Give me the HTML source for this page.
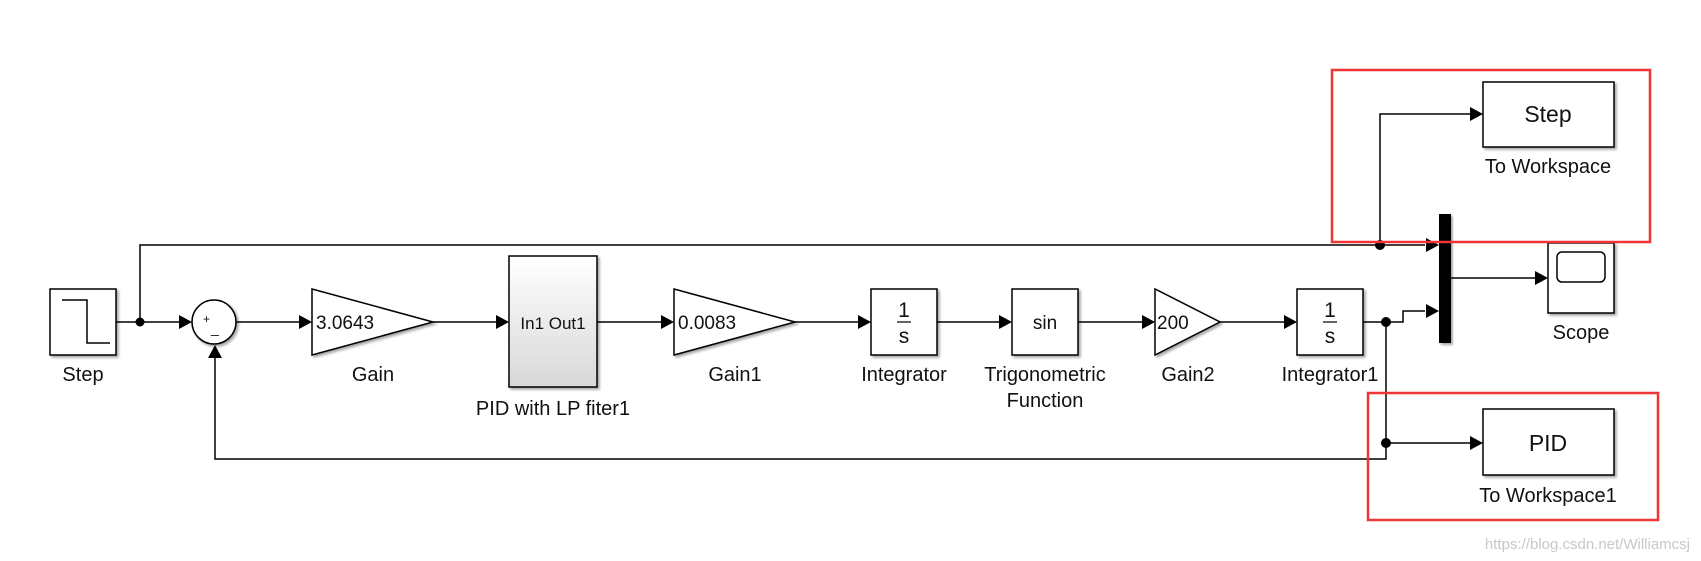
<!DOCTYPE html>
<html><head><meta charset="utf-8"><style>
html,body{margin:0;padding:0;background:#fff;}
svg{display:block;}
text{font-family:"Liberation Sans",sans-serif;fill:#111;}
</style></head><body>
<svg width="1701" height="561" viewBox="0 0 1701 561" xmlns="http://www.w3.org/2000/svg">
<defs>
<filter id="sh" x="-10%" y="-10%" width="130%" height="130%"><feDropShadow dx="2" dy="2" stdDeviation="1.2" flood-color="#000" flood-opacity="0.35"/></filter>
<linearGradient id="pg" x1="0" y1="0" x2="0" y2="1"><stop offset="0" stop-color="#fff"/><stop offset="1" stop-color="#d8d8d8"/></linearGradient>
</defs>
<g stroke="#000" stroke-width="1.5" fill="none">
<line x1="116" y1="322" x2="180" y2="322"/>
<polyline points="140,322 140,245 1425,245"/>
<line x1="236" y1="322" x2="300" y2="322"/>
<line x1="433" y1="322" x2="497" y2="322"/>
<line x1="597" y1="322" x2="662" y2="322"/>
<line x1="795" y1="322" x2="859" y2="322"/>
<line x1="937" y1="322" x2="1000" y2="322"/>
<line x1="1078" y1="322" x2="1143" y2="322"/>
<line x1="1220" y1="322" x2="1285" y2="322"/>
<polyline points="1363,322 1403,322 1403,311 1425,311"/>
<polyline points="1386,322 1386,459 215,459 215,358"/>
<line x1="1386" y1="443" x2="1471" y2="443"/>
<polyline points="1380,245 1380,114 1471,114"/>
<line x1="1451" y1="278" x2="1536" y2="278"/>
</g>
<g fill="#000">
<polygon points="179,315 192,322 179,329"/>
<polygon points="299,315 312,322 299,329"/>
<polygon points="496,315 509,322 496,329"/>
<polygon points="661,315 674,322 661,329"/>
<polygon points="858,315 871,322 858,329"/>
<polygon points="999,315 1012,322 999,329"/>
<polygon points="1142,315 1155,322 1142,329"/>
<polygon points="1284,315 1297,322 1284,329"/>
<polygon points="1426,238 1439,245 1426,252"/>
<polygon points="1426,304 1439,311 1426,318"/>
<polygon points="1470,107 1483,114 1470,121"/>
<polygon points="1470,436 1483,443 1470,450"/>
<polygon points="1535,271 1548,278 1535,285"/>
<polygon points="208,358 215,345 222,358"/>
<circle cx="140" cy="322" r="4.5"/>
<circle cx="1380" cy="245" r="5"/>
<circle cx="1386" cy="322" r="5"/>
<circle cx="1386" cy="443" r="5"/>
<rect x="1439" y="214" width="12" height="129" filter="url(#sh)"/>
</g>
<g stroke="#000" stroke-width="1.5" fill="#fff" filter="url(#sh)">
<rect x="50" y="289" width="66" height="66"/>
<ellipse cx="214" cy="322" rx="22" ry="22"/>
<polygon points="312,289 312,355 433,322"/>
<rect x="509" y="256" width="88" height="131" fill="url(#pg)"/>
<polygon points="674,289 674,355 795,322"/>
<rect x="871" y="289" width="66" height="66"/>
<rect x="1012" y="289" width="66" height="66"/>
<polygon points="1155,289 1155,355 1220,322"/>
<rect x="1297" y="289" width="66" height="66"/>
<rect x="1548" y="243" width="66" height="70"/>
<rect x="1483" y="82" width="131" height="65"/>
<rect x="1483" y="409" width="131" height="66"/>
</g>
<polyline points="62,300 87,300 87,343 110,343" stroke="#000" stroke-width="1.5" fill="none"/>
<rect x="1557" y="252" width="48" height="30" rx="5" stroke="#000" stroke-width="1.5" fill="#fff"/>
<line x1="897" y1="322" x2="911" y2="322" stroke="#000" stroke-width="1.2"/>
<line x1="1323" y1="322" x2="1337" y2="322" stroke="#000" stroke-width="1.2"/>
<rect x="1332" y="70" width="318" height="172" fill="none" stroke="#f03535" stroke-width="2.5"/>
<rect x="1368" y="393" width="290" height="127" fill="none" stroke="#f03535" stroke-width="2.5"/>
<g font-size="20">
<text x="83" y="381" text-anchor="middle">Step</text>
<text x="373" y="381" text-anchor="middle">Gain</text>
<text x="553" y="415" text-anchor="middle">PID with LP fiter1</text>
<text x="735" y="381" text-anchor="middle">Gain1</text>
<text x="904" y="381" text-anchor="middle">Integrator</text>
<text x="1045" y="381" text-anchor="middle">Trigonometric</text>
<text x="1045" y="407" text-anchor="middle">Function</text>
<text x="1188" y="381" text-anchor="middle">Gain2</text>
<text x="1330" y="381" text-anchor="middle">Integrator1</text>
<text x="1581" y="339" text-anchor="middle">Scope</text>
<text x="1548" y="173" text-anchor="middle">To Workspace</text>
<text x="1548" y="502" text-anchor="middle">To Workspace1</text>
</g>
<text x="316" y="329" font-size="19">3.0643</text>
<text x="678" y="329" font-size="19">0.0083</text>
<text x="1157" y="329" font-size="19">200</text>
<text x="553" y="329" font-size="17" text-anchor="middle">In1 Out1</text>
<text x="1045" y="329" font-size="19" text-anchor="middle">sin</text>
<text x="904" y="317" font-size="21" text-anchor="middle">1</text>
<text x="904" y="343" font-size="21" text-anchor="middle">s</text>
<text x="1330" y="317" font-size="21" text-anchor="middle">1</text>
<text x="1330" y="343" font-size="21" text-anchor="middle">s</text>
<text x="203" y="323" font-size="12">+</text>
<text x="211" y="333" font-size="14">_</text>
<text x="1548" y="122" font-size="23" text-anchor="middle">Step</text>
<text x="1548" y="451" font-size="23" text-anchor="middle">PID</text>
<text x="1690" y="549" font-size="15" text-anchor="end" style="fill:#c8c8c8">https://blog.csdn.net/Williamcsj</text>
</svg>
</body></html>
